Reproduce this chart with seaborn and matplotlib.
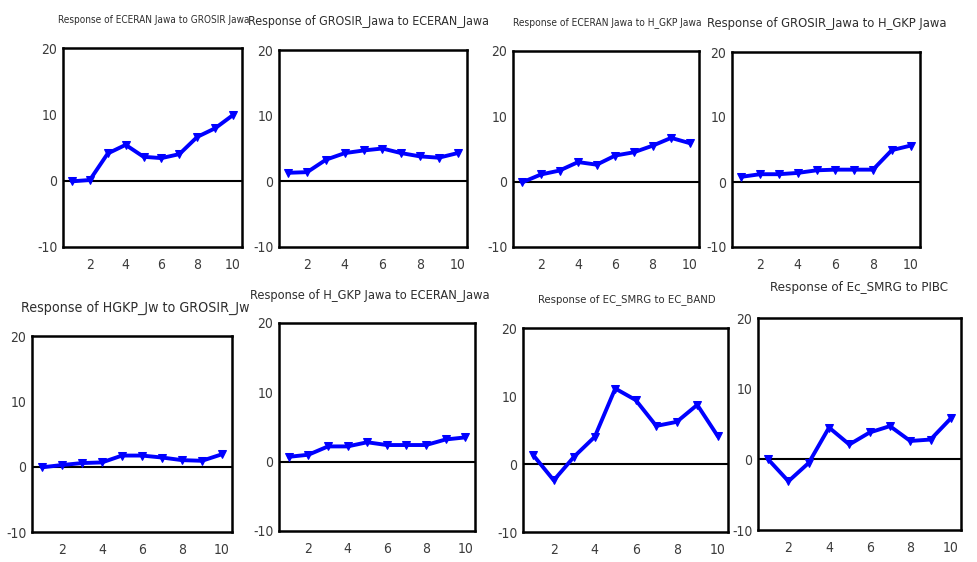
import matplotlib
matplotlib.use("Agg")
import matplotlib.pyplot as plt
import pandas as pd
import seaborn as sns
from matplotlib import font_manager
from matplotlib.font_manager import FontProperties

# Impulse responses over a 10-period horizon
periods = list(range(1, 11))

eceran_to_grosir = [-0.1, 0.1, 4.1, 5.4, 3.6, 3.4, 4.0, 6.6, 7.9, 9.9]
grosir_to_eceran = [1.3, 1.4, 3.3, 4.3, 4.7, 5.0, 4.3, 3.8, 3.6, 4.3]
eceran_to_hgkp = [-0.1, 1.1, 1.7, 3.0, 2.6, 4.0, 4.5, 5.5, 6.7, 5.9]
grosir_to_hgkp = [0.8, 1.2, 1.2, 1.4, 1.8, 1.9, 1.9, 1.9, 4.9, 5.6]
hgkp_to_grosir = [-0.1, 0.25, 0.55, 0.65, 1.7, 1.7, 1.4, 1.0, 0.9, 1.9]
hgkp_to_eceran = [0.7, 1.0, 2.2, 2.2, 2.8, 2.4, 2.4, 2.4, 3.2, 3.5]
smrg_to_band = [1.3, -2.4, 1.1, 4.0, 11.1, 9.4, 5.6, 6.2, 8.7, 4.1]
smrg_to_pibc = [0.0, -3.1, -0.5, 4.5, 2.1, 3.8, 4.7, 2.6, 2.8, 5.8]

titles = [
    "Response of ECERAN Jawa to GROSIR Jawa",
    "Response of GROSIR_Jawa to ECERAN_Jawa",
    "Response of ECERAN Jawa to H_GKP Jawa",
    "Response of GROSIR_Jawa to H_GKP Jawa",
    "Response of HGKP_Jw to GROSIR_Jw",
    "Response of H_GKP Jawa to ECERAN_Jawa",
    "Response of EC_SMRG to EC_BAND",
    "Response of Ec_SMRG to PIBC",
]
series = [eceran_to_grosir, grosir_to_eceran, eceran_to_hgkp, grosir_to_hgkp,
          hgkp_to_grosir, hgkp_to_eceran, smrg_to_band, smrg_to_pibc]

y_ticks = [-10, 0, 10, 20]
x_labels = [2, 4, 6, 8, 10]

W, H = 977, 562

# panel frames in pixels: left, top, right, bottom
frames = [
    (63, 48, 242, 247), (279, 50, 467, 247), (513, 51, 699, 247), (732, 52, 920, 247),
    (32, 336, 232, 532), (279, 323, 475, 531), (523, 328, 728, 532), (758, 318, 961, 530),
]
# title spans: left, right, centre y
title_spans = [
    (58, 250, 20), (248, 490, 21), (513, 702, 23), (707, 947, 23),
    (21, 250, 308), (249, 490, 295), (537, 716, 300), (770, 948, 288),
]

sns.set_style("white")
plt.rcParams["font.family"] = ["Liberation Sans", "DejaVu Sans"]

# a narrow face for the headings and tick labels, if one is installed
narrow_file = None
for f in font_manager.fontManager.ttflist:
    name = f.name.lower()
    stretch = str(f.stretch).lower()
    is_narrow = ("narrow" in name or "condensed" in name or "condensed" in stretch
                 or "narrow" in f.fname.lower() or "condensed" in f.fname.lower())
    if is_narrow and f.weight in (400, "normal", "regular") and f.style == "normal":
        if narrow_file is None or "liberation" in f.fname.lower():
            narrow_file = f.fname


def label_font(size):
    if narrow_file:
        return FontProperties(fname=narrow_file, size=size)
    return FontProperties(family=["Liberation Sans", "DejaVu Sans"], size=size)


fig = plt.figure(figsize=(W / 100, H / 100), dpi=100)
fig.patch.set_facecolor("white")

text_color = "#3b3b3b"
blue = "#0000ff"

for vals, (l, t, r, b) in zip(series, frames):
    ax = fig.add_axes([l / W, 1 - b / H, (r - l) / W, (b - t) / H])
    df = pd.DataFrame({"period": periods, "response": vals})
    ax.axhline(0, color="black", lw=1.5, zorder=1)
    sns.lineplot(data=df, x="period", y="response", ax=ax, color=blue, lw=2.8,
                 marker="v", markersize=6, markeredgecolor=blue, zorder=3)
    ax.set_xlim(0.5, 10.5)
    ax.set_ylim(-10, 20)
    ax.set_xlabel("")
    ax.set_ylabel("")
    ax.set_yticks(y_ticks)
    ax.set_yticklabels([str(v) for v in y_ticks], color=text_color,
                       fontproperties=label_font(10))
    ax.set_xticks([p + 0.5 for p in range(0, 11)], minor=True)
    ax.set_xticks(x_labels)
    ax.set_xticklabels([str(v) for v in x_labels], color=text_color,
                       fontproperties=label_font(10))
    ax.tick_params(axis="x", which="major", length=0, pad=8)
    ax.tick_params(axis="x", which="minor", length=4, width=1.5, color="black", direction="out")
    ax.tick_params(axis="y", length=3, width=1.5, color="black", direction="out", pad=1)
    for s in ax.spines.values():
        s.set_visible(True)
        s.set_color("black")
        s.set_linewidth(1.8)
    ax.grid(False)

# titles, sized so each spans its column header
renderer = fig.canvas.get_renderer()
for text, (x0, x1, yc) in zip(titles, title_spans):
    txt = fig.text((x0 + x1) / 2 / W, 1 - yc / H, text, ha="center", va="center",
                   fontproperties=label_font(10), color="#2e2e2e")
    width = txt.get_window_extent(renderer).width
    txt.set_fontsize(min(10 * (x1 - x0) / width, 12))

fig.savefig("out.png", dpi=100, facecolor="white")
